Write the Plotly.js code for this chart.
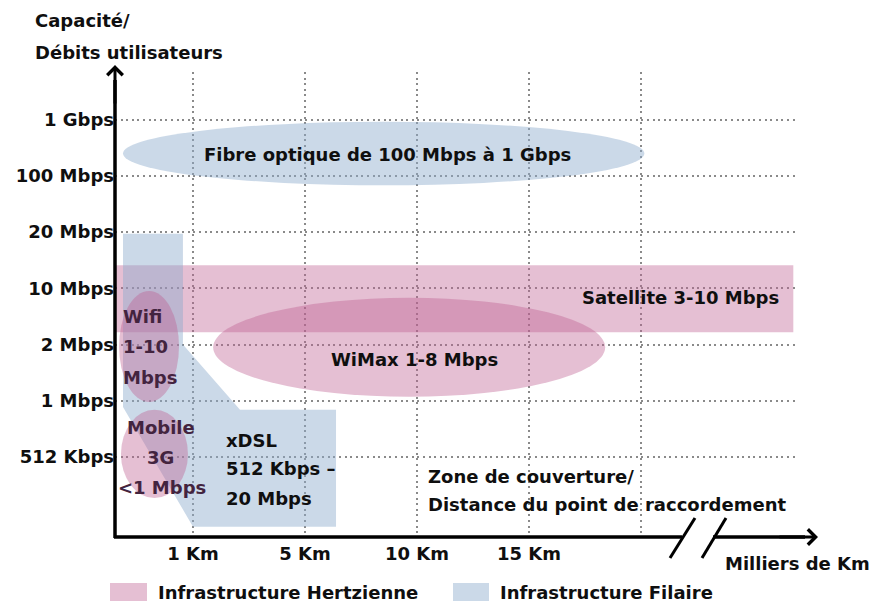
<!DOCTYPE html>
<html>
<head>
<meta charset="utf-8">
<script src="https://cdn.plot.ly/plotly-3.0.1.min.js"></script>
<style>html,body{margin:0;padding:0;background:#fff;}#chart{width:877px;height:603px;}</style>
</head>
<body>
<div id="chart"></div>
<script>
// ---- Data ----
const yTickPos = [1, 2, 3, 4, 5, 6, 7];
const yTickLabels = ['512 Kbps', '1 Mbps', '2 Mbps', '10 Mbps', '20 Mbps', '100 Mbps', '1 Gbps'];
const xTickPos = [1, 2, 3, 4, 5];
const xTickLabels = ['1 Km', '5 Km', '10 Km', '15 Km', ''];

// Satellite band (Hertzienne), index coordinates on the category scales
const satelliteX = [0.30, 6.36, 6.36, 0.30];
const satelliteY = [3.22, 3.22, 4.41, 4.41];
// Wired region: ADSL strip + xDSL block (Filaire)
const xdslX = [0.375, 0.91, 0.91, 1.42, 2.277, 2.277, 1.0, 0.375];
const xdslY = [4.97, 4.97, 3.0, 1.84, 1.84, -0.24, -0.24, 1.89];

// Ellipses: Fibre (Filaire), WiMax, Wifi, Mobile 3G (Hertzienne)
const ellipseNames = ['Fibre', 'WiMax', 'Wifi', 'Mobile'];
const ellipseType  = ['filaire', 'hertz', 'hertz', 'hertz'];
const ellipseX0 = [0.375, 1.18, 0.34, 0.357];
const ellipseX1 = [5.03, 4.68, 0.875, 0.955];
const ellipseY0 = [5.83, 2.07, 1.98, 0.27];
const ellipseY1 = [6.96, 3.83, 3.95, 1.84];

// ---- Styles ----
const FONT = 'DejaVu Sans, sans-serif';
const TXT = '#0f0f0f';
const PURPLE_TXT = '#43243f';
const PINK = 'rgba(190,95,145,0.40)';
const BLUE = 'rgba(140,170,205,0.45)';
const PINK_SOLID = 'rgb(229,191,211)';
const BLUE_SOLID = 'rgb(203,217,232)';

const traces = [
  {x: satelliteX, y: satelliteY, type: 'scatter', mode: 'none', fill: 'toself',
   fillcolor: PINK, hoverinfo: 'skip', showlegend: false, name: 'Satellite'},
  {x: xdslX, y: xdslY, type: 'scatter', mode: 'none', fill: 'toself',
   fillcolor: BLUE, hoverinfo: 'skip', showlegend: false, name: 'xDSL'}
];

const shapes = ellipseNames.map((n, i) => ({
  type: 'circle', xref: 'x', yref: 'y', layer: 'above',
  x0: ellipseX0[i], x1: ellipseX1[i], y0: ellipseY0[i], y1: ellipseY1[i],
  fillcolor: ellipseType[i] === 'hertz' ? PINK : BLUE,
  line: {width: 0}
}));

const W = 877, H = 603, L = 115, R = 82, T = 72, B = 66;
const PW = W - L - R, PH = H - T - B;
const px = v => (v - L) / PW;       // pixel x -> paper
const py = v => (H - B - v) / PH;   // pixel y -> paper

// axis lines, break marks
shapes.push(
  {type: 'line', xref: 'paper', yref: 'paper', x0: 0, x1: 0, y0: py(538), y1: py(80), line: {color: '#000', width: 3.5}},
  {type: 'line', xref: 'paper', yref: 'paper', x0: px(114), x1: px(682), y0: 0, y1: 0, line: {color: '#000', width: 3.5}},
  {type: 'line', xref: 'paper', yref: 'paper', x0: px(713), x1: px(805), y0: 0, y1: 0, line: {color: '#000', width: 3.5}},
  {type: 'line', xref: 'paper', yref: 'paper', x0: px(670), x1: px(695), y0: py(558), y1: py(518), line: {color: '#000', width: 3}},
  {type: 'line', xref: 'paper', yref: 'paper', x0: px(702), x1: px(726), y0: py(558), y1: py(518), line: {color: '#000', width: 3}},
  // legend swatches
  {type: 'rect', xref: 'paper', yref: 'paper', x0: px(110), x1: px(147), y0: py(601), y1: py(583), fillcolor: PINK_SOLID, line: {width: 0}},
  {type: 'rect', xref: 'paper', yref: 'paper', x0: px(453), x1: px(489), y0: py(601), y1: py(583), fillcolor: BLUE_SOLID, line: {width: 0}}
);

const f = (c) => ({family: FONT, size: 18, color: c || TXT, weight: 'bold'});
function ann(text, x, y, opts) {
  return Object.assign({text: text, x: x, y: y, xref: 'x', yref: 'y', showarrow: false,
    font: f(), xanchor: 'center', yanchor: 'middle'}, opts || {});
}
const annotations = [
  ann('Fibre optique de 100 Mbps à 1 Gbps', 2.74, 6.38),
  ann('Satellite 3-10 Mbps', 5.35, 3.84),
  ann('WiMax 1-8 Mbps', 2.98, 2.74),
  ann('Wifi', 0.36, 3.49, {xanchor: 'left', font: f(PURPLE_TXT)}),
  ann('1-10', 0.36, 2.96, {xanchor: 'left', font: f(PURPLE_TXT)}),
  ann('Mbps', 0.36, 2.42, {xanchor: 'left', font: f(PURPLE_TXT)}),
  ann('Mobile', 0.71, 1.52, {font: f(PURPLE_TXT)}),
  ann('3G', 0.71, 1.0, {font: f(PURPLE_TXT)}),
  ann('<1 Mbps', 0.72, 0.45, {font: f(PURPLE_TXT)}),
  ann('xDSL', 1.28, 1.30, {xanchor: 'left'}),
  ann('512 Kbps –', 1.28, 0.80, {xanchor: 'left'}),
  ann('20 Mbps', 1.28, 0.27, {xanchor: 'left'}),
  ann('Zone de couverture/', 3.08, 0.66, {xanchor: 'left'}),
  ann('Distance du point de raccordement', 3.08, 0.15, {xanchor: 'left'}),
  // paper-positioned texts
  {text: 'Capacité/', xref: 'paper', yref: 'paper', x: px(33), y: py(20), xanchor: 'left', yanchor: 'middle', showarrow: false, font: f()},
  {text: 'Débits utilisateurs', xref: 'paper', yref: 'paper', x: px(33), y: py(52), xanchor: 'left', yanchor: 'middle', showarrow: false, font: f()},
  {text: 'Milliers de Km', xref: 'paper', yref: 'paper', x: px(723), y: py(563), xanchor: 'left', yanchor: 'middle', showarrow: false, font: f()},
  {text: 'Infrastructure Hertzienne', xref: 'paper', yref: 'paper', x: px(156), y: py(592), xanchor: 'left', yanchor: 'middle', showarrow: false, font: f()},
  {text: 'Infrastructure Filaire', xref: 'paper', yref: 'paper', x: px(498), y: py(592), xanchor: 'left', yanchor: 'middle', showarrow: false, font: f()},
  // arrow heads
  {text: '', xref: 'paper', yref: 'paper', x: 0, y: py(65), ax: 0, ay: 40, showarrow: true,
   arrowhead: 4, arrowsize: 1, arrowwidth: 3, arrowcolor: '#000', standoff: 0},
  {text: '', xref: 'paper', yref: 'paper', x: px(818), y: 0, ax: -40, ay: 0, showarrow: true,
   arrowhead: 4, arrowsize: 1, arrowwidth: 3, arrowcolor: '#000', standoff: 0}
];

const gridStyle = {gridcolor: '#8a8a8a', gridwidth: 2, griddash: '2px,3.6px'};
const layout = {
  width: W, height: H,
  margin: {l: L, r: R, t: T, b: B, pad: 0},
  paper_bgcolor: '#fff', plot_bgcolor: '#fff',
  showlegend: false,
  xaxis: Object.assign({
    range: [1 + (L - 193) / 112, 1 + (W - R - 193) / 112],
    tickmode: 'array', tickvals: xTickPos, ticktext: xTickLabels,
    showgrid: true, zeroline: false, showline: false, ticks: '',
    ticklabelstandoff: 4,
    tickfont: f(), fixedrange: true
  }, gridStyle),
  yaxis: Object.assign({
    range: [1 + (457 - (H - B)) / 56.25, 1 + (457 - T) / 56.25],
    tickmode: 'array', tickvals: yTickPos, ticktext: yTickLabels,
    showgrid: true, zeroline: false, showline: false, ticks: '',
    tickfont: f(), fixedrange: true
  }, gridStyle),
  shapes: shapes,
  annotations: annotations
};

Plotly.newPlot('chart', traces, layout, {staticPlot: true, displayModeBar: false});
</script>
</body>
</html>
